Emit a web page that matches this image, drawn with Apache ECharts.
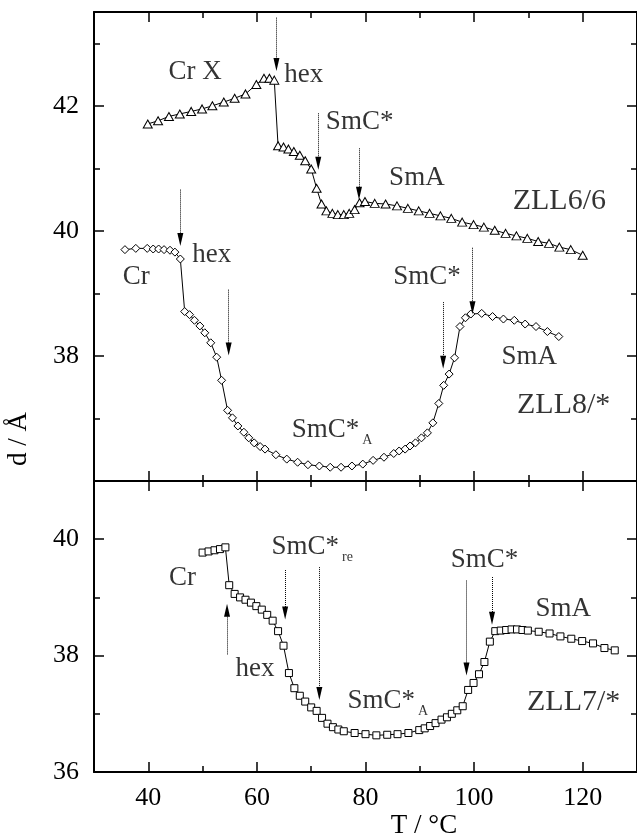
<!DOCTYPE html>
<html>
<head>
<meta charset="utf-8">
<script src="https://cdn.jsdelivr.net/npm/echarts@6/dist/echarts.min.js"></script>
<style>
html, body { margin: 0; padding: 0; background: #fff; }
#main { width: 637px; height: 840px; }
</style>
</head>
<body>
<div id="main"></div>
<script>
// ZLL6/6 (top panel, triangles)
var t6 = [39.9, 41.8, 43.8, 45.8, 47.9, 49.9, 51.8, 53.9, 55.9, 57.9, 59.9, 61.3, 62.3, 63.2,
    63.9, 64.9, 65.8, 66.8, 67.9, 68.9, 70.0, 71.0, 71.9, 72.8, 73.9, 74.9, 76.0, 77.0, 78.0, 78.9,
    79.9, 81.7, 83.7, 85.8, 87.8, 89.8, 91.8, 93.8, 95.8, 97.8, 99.9, 101.8, 103.8, 105.8, 107.8,
    109.8, 111.8, 113.8, 115.7, 117.8, 120.0];
var d6 = [41.71, 41.76, 41.83, 41.87, 41.91, 41.95, 42.0, 42.06, 42.12, 42.19, 42.34, 42.44, 42.44, 42.41,
    41.36, 41.34, 41.31, 41.27, 41.21, 41.12, 40.99, 40.68, 40.43, 40.32, 40.28, 40.26, 40.26, 40.28, 40.34, 40.45,
    40.47, 40.44, 40.43, 40.40, 40.36, 40.32, 40.28, 40.24, 40.20, 40.14, 40.10, 40.06, 40.01, 39.96, 39.92,
    39.88, 39.83, 39.80, 39.74, 39.70, 39.61];

// ZLL8/* (top panel, diamonds)
var t8 = [35.7, 37.7, 39.8, 40.9, 41.9, 42.9, 44.0, 44.9, 45.9,
    46.7, 47.6, 48.5, 49.5, 50.4, 51.5, 52.6, 53.5, 54.6,
    55.5, 56.5, 57.6, 58.5, 59.5, 60.6, 61.5,
    63.5, 65.5, 67.5, 69.4, 71.5, 73.5, 75.5, 77.5, 79.5,
    81.4, 83.4, 85.2, 86.2, 87.3, 88.2, 89.2, 90.3, 91.4, 92.4,
    93.5, 94.4, 95.4, 96.4, 97.4, 98.4, 99.4,
    101.4, 103.4, 105.4, 107.4, 109.4, 111.4, 113.5, 115.6];
var d8 = [39.70, 39.72, 39.72, 39.71, 39.71, 39.70, 39.69, 39.66, 39.55,
    38.71, 38.66, 38.57, 38.48, 38.37, 38.21, 37.98, 37.61, 37.13,
    37.01, 36.88, 36.78, 36.69, 36.61, 36.55, 36.51,
    36.42, 36.35, 36.30, 36.26, 36.24, 36.22, 36.22, 36.24, 36.27,
    36.33, 36.38, 36.44, 36.48, 36.51, 36.56, 36.61, 36.69, 36.77, 36.93,
    37.24, 37.53, 37.71, 37.97, 38.47, 38.61, 38.67,
    38.68, 38.63, 38.59, 38.57, 38.51, 38.47, 38.39, 38.31];

// ZLL7/* (bottom panel, squares)
var t7 = [50.0, 51.1, 52.2, 53.2, 54.2,
    54.9, 55.9, 56.9, 57.9, 58.9, 59.9, 60.9, 61.9, 62.9, 63.9,
    64.9, 65.9, 66.9, 67.9, 68.9, 70.0, 71.0, 72.0, 73.0, 74.0,
    75.0, 76.0, 78.0, 80.0, 82.0, 84.0, 85.9, 87.9, 89.9, 90.9,
    91.9, 92.9, 94.0, 95.0, 95.9, 96.9, 97.9, 98.9, 99.9, 100.9,
    101.9, 102.9, 103.9, 104.9, 105.9, 106.9, 107.9, 108.9, 109.9,
    111.9, 113.9, 115.9, 117.9, 119.9, 121.9, 124.0, 125.9];
var d7 = [39.77, 39.79, 39.81, 39.83, 39.86,
    39.21, 39.06, 39.0, 38.96, 38.91, 38.85, 38.79, 38.70, 38.60, 38.42,
    38.17, 37.70, 37.44, 37.31, 37.21, 37.11, 37.05, 36.93, 36.83, 36.77,
    36.73, 36.70, 36.67, 36.65, 36.63, 36.64, 36.65, 36.67, 36.72, 36.75,
    36.79, 36.84, 36.90, 36.94, 37.0, 37.06, 37.13, 37.41, 37.53, 37.68,
    37.89, 38.24, 38.42, 38.43, 38.44, 38.45, 38.45, 38.44, 38.43,
    38.41, 38.38, 38.33, 38.29, 38.25, 38.21, 38.13, 38.09];

// ticks
var xMajor = [40, 60, 80, 100, 120];
var xMinor = [50, 70, 90, 110];
var yTopMajor = [38, 40, 42];
var yTopMinor = [37, 39, 41, 43];
var yBotMajor = [36, 38, 40];
var yBotMinor = [37, 39];

// transition arrows: [T, from d, to d]
var arrowsTop = [[63.6, 43.41, 42.66], [71.3, 41.88, 41.08], [78.8, 41.32, 40.60],
    [45.9, 40.66, 39.86], [54.8, 39.06, 38.11], [94.3, 38.86, 37.90], [99.7, 39.73, 38.77]];
var arrowsBot = [[54.5, 38.02, 38.78], [65.2, 39.47, 38.73], [71.5, 39.52, 37.35],
    [98.6, 39.29, 37.77], [103.3, 39.35, 38.64]];

// phase labels: [text, subscript, T, d]
var labelsTop = [['Cr X', '', 43.7, 42.55], ['hex', '', 65.05, 42.50], ['SmC*', '', 72.7, 41.75],
    ['SmA', '', 84.35, 40.84], ['ZLL6/6', '', 107.1, 40.47], ['hex', '', 48.1, 39.62],
    ['Cr', '', 35.3, 39.26], ['SmC*', '', 85.1, 39.26], ['SmA', '', 105.05, 37.99],
    ['ZLL8/*', '', 107.9, 37.21], ['SmC*', 'A', 66.4, 36.82]];
var labelsBot = [['Cr', '', 43.8, 39.34], ['SmC*', 're', 62.7, 39.87], ['hex', '', 56.05, 37.77],
    ['SmC*', 'A', 76.7, 37.23], ['SmC*', '', 95.7, 39.64], ['SmA', '', 111.3, 38.81],
    ['ZLL7/*', '', 109.75, 37.20]];

var FONT = '"Liberation Serif", "DejaVu Serif", serif';
var chart = echarts.init(document.getElementById('main'));

function pairs(t, d) {
    return t.map(function (v, i) { return [v, d[i]]; });
}

// one axis = a major-tick copy (line + labels) and a minor-tick copy
function axisPair(dim, gridIndex, position, min, max, major, minor, labels) {
    var base = {
        type: 'value', gridIndex: gridIndex, position: position, min: min, max: max,
        splitLine: { show: false }
    };
    var a = Object.assign({}, base, {
        axisLine: { show: true, onZero: false, lineStyle: { color: '#000', width: 2 } },
        axisTick: { show: true, inside: true, length: 10, customValues: major,
            lineStyle: { color: '#000', width: 1.5 } },
        axisLabel: labels ? { show: true, customValues: labels, margin: dim === 'x' ? 13 : 15,
            color: '#000', fontFamily: FONT, fontSize: 26 } : { show: false }
    });
    var b = Object.assign({}, base, {
        axisLine: { show: false, onZero: false },
        axisTick: { show: true, inside: true, length: 6, customValues: minor,
            lineStyle: { color: '#000', width: 1.5 } },
        axisLabel: { show: false }
    });
    return [a, b];
}

var xAxes = [].concat(
    axisPair('x', 0, 'bottom', 30, 130, xMajor, xMinor, null),
    axisPair('x', 0, 'top', 30, 130, xMajor, xMinor, null),
    axisPair('x', 1, 'bottom', 30, 130, xMajor, xMinor, xMajor),
    axisPair('x', 1, 'top', 30, 130, xMajor, xMinor, null)
);
var yAxes = [].concat(
    axisPair('y', 0, 'left', 36, 43.5, yTopMajor, yTopMinor, yTopMajor),
    axisPair('y', 0, 'right', 36, 43.5, yTopMajor, yTopMinor, null),
    axisPair('y', 1, 'left', 36, 41, yBotMajor, yBotMinor, yBotMajor),
    axisPair('y', 1, 'right', 36, 41, yBotMajor, yBotMinor, null)
);

function arrowLines(arrows) {
    return {
        silent: true,
        symbol: ['none', 'triangle'],
        symbolSize: [6, 13],
        lineStyle: { type: 'dotted', color: '#000', width: 1 },
        itemStyle: { color: '#000' },
        label: { show: false },
        emphasis: { disabled: true },
        data: arrows.map(function (a) {
            return [{ coord: [a[0], a[1]] }, { coord: [a[0], a[2]] }];
        })
    };
}

function dataSeries(name, t, d, symbol, size, xi, yi, arrows) {
    return {
        name: name, type: 'line', xAxisIndex: xi, yAxisIndex: yi,
        data: pairs(t, d),
        symbol: symbol, symbolSize: size, showAllSymbol: true,
        lineStyle: { color: '#000', width: 1 },
        itemStyle: { color: '#fff', borderColor: '#000', borderWidth: 1 },
        markLine: arrows ? arrowLines(arrows) : undefined,
        z: 3
    };
}

var rich = {
    m: { fontFamily: FONT, fontSize: 27, color: '#000' },
    z: { fontFamily: FONT, fontSize: 30, color: '#000' },
    s: { fontFamily: FONT, fontSize: 14, color: '#000', padding: [22, 0, 0, 3] }
};

function labelSeries(labels, xi, yi) {
    return {
        type: 'scatter', xAxisIndex: xi, yAxisIndex: yi, silent: true,
        symbolSize: 0,
        data: labels.map(function (l) {
            return { value: [l[2], l[3]], txt: l[0], sub: l[1] };
        }),
        label: {
            show: true, position: 'right', distance: 0,
            formatter: function (p) {
                var key = p.data.txt.indexOf('ZLL') === 0 ? 'z' : 'm';
                var s = '{' + key + '|' + p.data.txt + '}';
                if (p.data.sub) s += '{s|' + p.data.sub + '}';
                return s;
            },
            rich: rich
        },
        z: 5
    };
}

var option = {
    animation: false,
    backgroundColor: '#fff',
    textStyle: { fontFamily: FONT },
    grid: [
        { left: 94, top: 12, width: 544, height: 469 },
        { left: 94, top: 481, width: 544, height: 291 }
    ],
    xAxis: xAxes,
    yAxis: yAxes,
    graphic: [
        { type: 'text', x: 19, y: 439, rotation: Math.PI / 2,
          style: { text: 'd / Å', font: '27px "Liberation Serif"', fill: '#000', align: 'center', verticalAlign: 'middle' } },
        { type: 'text', x: 424, y: 826,
          style: { text: 'T / °C', font: '27px "Liberation Serif"', fill: '#000', align: 'center', verticalAlign: 'middle' } }
    ],
    series: [
        dataSeries('ZLL6/6', t6, d6, 'triangle', [9, 8], 0, 0, arrowsTop),
        dataSeries('ZLL8/*', t8, d8, 'diamond', 8, 0, 0, null),
        dataSeries('ZLL7/*', t7, d7, 'rect', 7, 4, 4, arrowsBot),
        labelSeries(labelsTop, 0, 0),
        labelSeries(labelsBot, 4, 4)
    ]
};
chart.setOption(option);
</script>
</body>
</html>
